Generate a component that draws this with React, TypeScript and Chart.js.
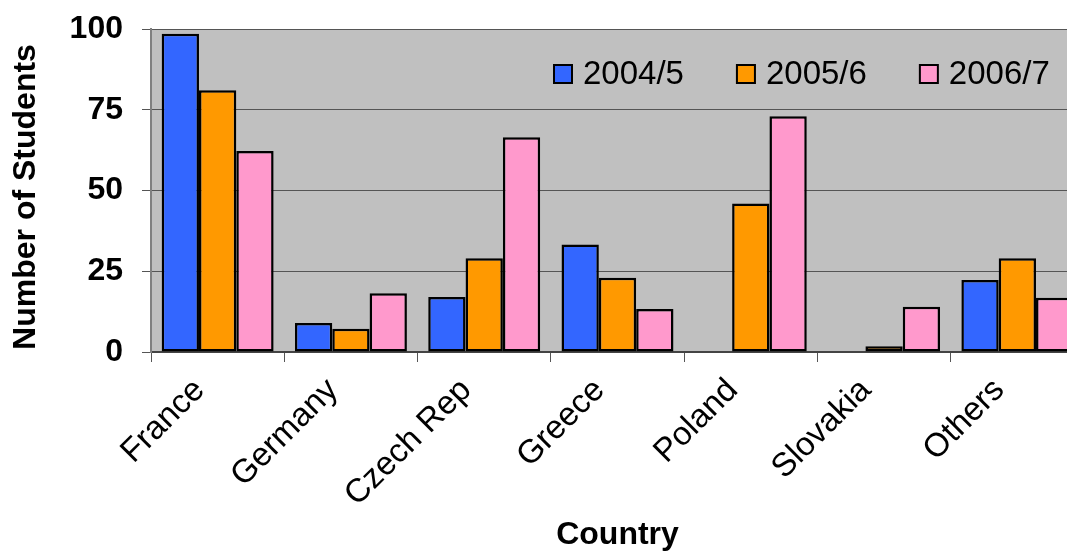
import React, { useEffect, useRef } from 'react';
import { Chart, registerables } from 'chart.js';

Chart.register(...registerables);

const categories = ['France', 'Germany', 'Czech Rep', 'Greece', 'Poland', 'Slovakia', 'Others'];
const seriesLabels = ['2004/5', '2005/6', '2006/7'];
const values2004 = [98.5, 9, 17, 33.3, 0, 0, 22.3];
const values2005 = [81, 7.2, 29, 23, 46, 1.8, 29];
const values2006 = [62.2, 18.2, 66.5, 13.3, 73, 14, 16.8];
const seriesColors = ['#3366FF', '#FF9900', '#FF99CC'];
const yTickValues = [0, 25, 50, 75, 100];
const yTitle = 'Number of Students';
const xTitle = 'Country';

const FONT = '"Liberation Sans", Arial, sans-serif';
const CANVAS_W = 1100;
const CANVAS_H = 551;

export default function App() {
  const ref = useRef<HTMLCanvasElement | null>(null);

  useEffect(() => {
    if (!ref.current) return;

    const plotBg = {
      id: 'plotBg',
      beforeDraw(chart: any) {
        const { ctx, chartArea: a } = chart;
        ctx.save();
        ctx.fillStyle = '#C0C0C0';
        ctx.fillRect(a.left, a.top, a.right - a.left, a.bottom - a.top);
        ctx.restore();
      },
    };

    const yTitlePlugin = {
      id: 'yTitlePlugin',
      afterDraw(chart: any) {
        const { ctx } = chart;
        ctx.save();
        ctx.font = `bold 32px ${FONT}`;
        ctx.fillStyle = '#000';
        ctx.textAlign = 'center';
        ctx.textBaseline = 'middle';
        ctx.translate(26, 197);
        ctx.rotate(-Math.PI / 2);
        ctx.fillText(yTitle, 0, 0);
        ctx.restore();
      },
    };

    const customLegend = {
      id: 'customLegend',
      afterDatasetsDraw(chart: any) {
        const { ctx } = chart;
        ctx.save();
        ctx.font = `33px ${FONT}`;
        ctx.textBaseline = 'middle';
        ctx.textAlign = 'left';
        let x = 553;
        const yc = 74;
        chart.data.datasets.forEach((ds: any) => {
          ctx.fillStyle = ds.backgroundColor;
          ctx.fillRect(x, yc - 10, 20, 20);
          ctx.strokeStyle = '#000';
          ctx.lineWidth = 2;
          ctx.strokeRect(x + 1, yc - 9, 18, 18);
          ctx.fillStyle = '#000';
          ctx.fillText(ds.label, x + 30, yc + 1);
          x += 30 + ctx.measureText(ds.label).width + 52;
        });
        ctx.restore();
      },
    };

    const seriesValues = [values2004, values2005, values2006];

    const chart = new Chart(ref.current, {
      type: 'bar',
      data: {
        labels: categories,
        datasets: seriesLabels.map((label, i) => ({
          label,
          data: seriesValues[i],
          backgroundColor: seriesColors[i],
          borderColor: '#000',
          borderWidth: 2.5,
          borderSkipped: false,
          categoryPercentage: 0.84,
          barPercentage: 1,
        })),
      },
      options: {
        responsive: false,
        animation: false,
        layout: { padding: { top: 29, right: CANVAS_W - 1084, left: 0, bottom: 0 } },
        plugins: {
          legend: { display: false },
          tooltip: { enabled: false },
        },
        scales: {
          x: {
            type: 'category',
            offset: true,
            afterFit(scale: any) {
              scale.height = CANVAS_H - 352;
              scale.paddingLeft = 0;
              scale.paddingRight = 0;
            },
            grid: {
              display: true,
              drawOnChartArea: false,
              offset: true,
              tickLength: 10,
              color: '#555',
            },
            border: { display: true, color: '#444', width: 2 },
            ticks: {
              autoSkip: false,
              maxRotation: 45,
              minRotation: 45,
              padding: 9,
              labelOffset: -18,
              color: '#000',
              font: { family: FONT, size: 33 },
            },
            title: {
              display: true,
              text: xTitle,
              color: '#000',
              font: { family: FONT, size: 32, weight: 'bold', lineHeight: 1 },
              padding: { top: 0, bottom: 0 },
            },
          },
          y: {
            min: 0,
            max: 100,
            afterFit(scale: any) {
              scale.width = 151;
              scale.paddingTop = 0;
              scale.paddingBottom = 0;
            },
            afterBuildTicks(scale: any) {
              scale.ticks = yTickValues.map((v) => ({ value: v }));
            },
            grid: {
              color: '#555',
              tickLength: 9,
              lineWidth: 1,
            },
            border: { display: true, color: '#808080', width: 2 },
            ticks: {
              padding: 19,
              color: '#000',
              font: { family: FONT, size: 32, weight: 'bold' },
            },
            title: { display: false },
          },
        },
      },
      plugins: [plotBg, customLegend, yTitlePlugin],
    } as any);

    return () => chart.destroy();
  }, []);

  return (
    <div
      style={{
        position: 'fixed',
        left: 0,
        top: 0,
        width: 1067,
        height: 551,
        overflow: 'hidden',
        background: '#fff',
      }}
    >
      <canvas
        ref={ref}
        width={CANVAS_W}
        height={CANVAS_H}
        style={{ display: 'block', width: CANVAS_W, height: CANVAS_H }}
      />
    </div>
  );
}
